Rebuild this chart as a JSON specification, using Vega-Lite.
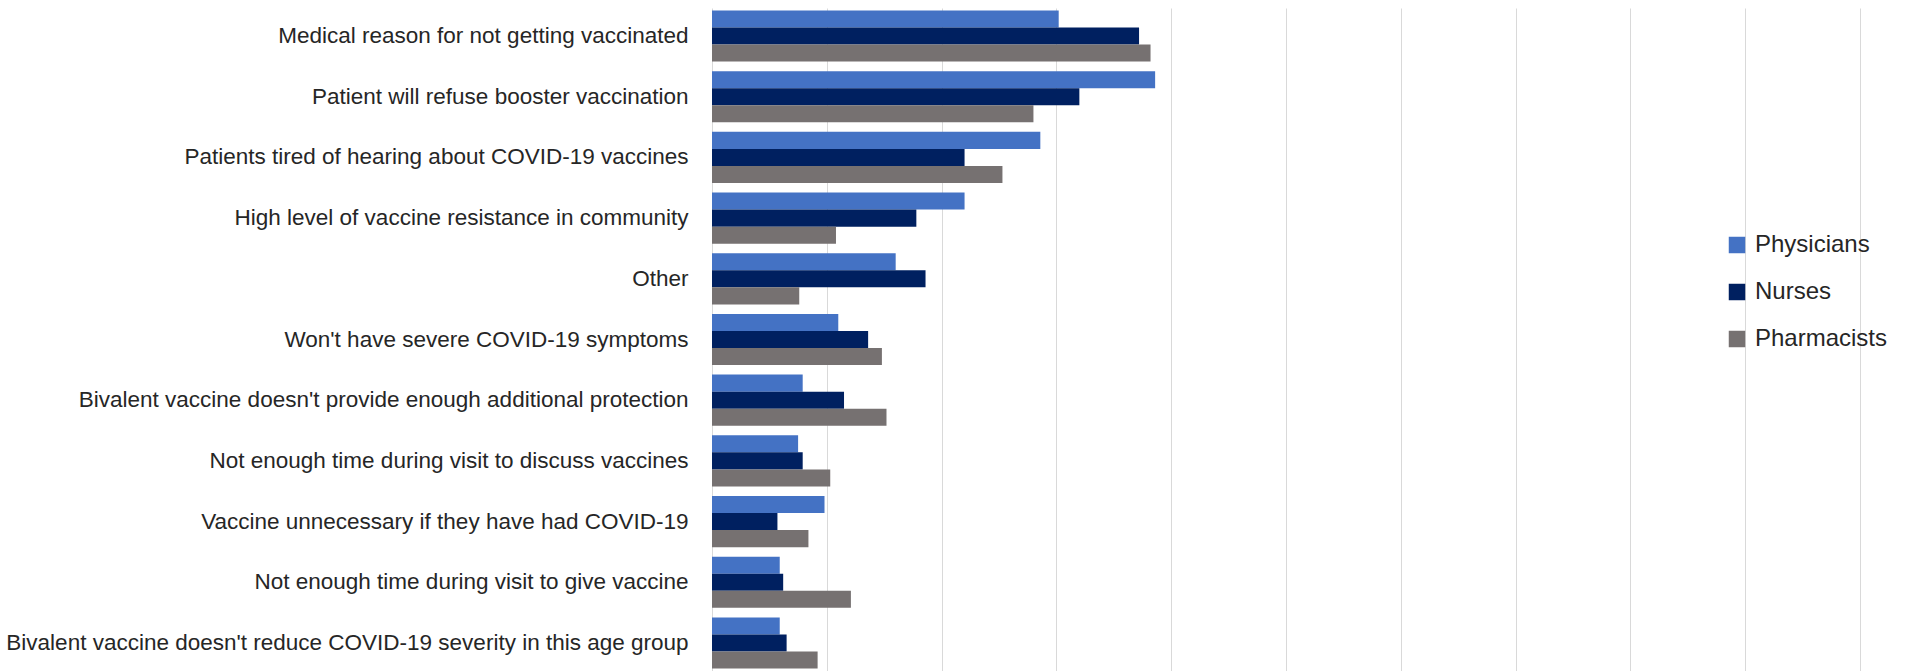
{
  "$schema": "https://vega.github.io/schema/vega-lite/v6.json",
  "autosize": {"type": "none"},
  "padding": {"left": 712, "top": 8, "right": 54, "bottom": 0},
  "width": 1148,
  "height": 663,
  "background": "white",
  "config": {"view": {"stroke": null}, "font": "Liberation Sans"},
  "data": {"values": [
    {"reason": "Medical reason for not getting vaccinated", "group": "Physicians", "value": 15.1},
    {"reason": "Medical reason for not getting vaccinated", "group": "Nurses", "value": 18.6},
    {"reason": "Medical reason for not getting vaccinated", "group": "Pharmacists", "value": 19.1},
    {"reason": "Patient will refuse booster vaccination", "group": "Physicians", "value": 19.3},
    {"reason": "Patient will refuse booster vaccination", "group": "Nurses", "value": 16.0},
    {"reason": "Patient will refuse booster vaccination", "group": "Pharmacists", "value": 14.0},
    {"reason": "Patients tired of hearing about COVID-19 vaccines", "group": "Physicians", "value": 14.3},
    {"reason": "Patients tired of hearing about COVID-19 vaccines", "group": "Nurses", "value": 11.0},
    {"reason": "Patients tired of hearing about COVID-19 vaccines", "group": "Pharmacists", "value": 12.65},
    {"reason": "High level of vaccine resistance in community", "group": "Physicians", "value": 11.0},
    {"reason": "High level of vaccine resistance in community", "group": "Nurses", "value": 8.9},
    {"reason": "High level of vaccine resistance in community", "group": "Pharmacists", "value": 5.4},
    {"reason": "Other", "group": "Physicians", "value": 8.0},
    {"reason": "Other", "group": "Nurses", "value": 9.3},
    {"reason": "Other", "group": "Pharmacists", "value": 3.8},
    {"reason": "Won't have severe COVID-19 symptoms", "group": "Physicians", "value": 5.5},
    {"reason": "Won't have severe COVID-19 symptoms", "group": "Nurses", "value": 6.8},
    {"reason": "Won't have severe COVID-19 symptoms", "group": "Pharmacists", "value": 7.4},
    {"reason": "Bivalent vaccine doesn't provide enough additional protection", "group": "Physicians", "value": 3.95},
    {"reason": "Bivalent vaccine doesn't provide enough additional protection", "group": "Nurses", "value": 5.75},
    {"reason": "Bivalent vaccine doesn't provide enough additional protection", "group": "Pharmacists", "value": 7.6},
    {"reason": "Not enough time during visit to discuss vaccines", "group": "Physicians", "value": 3.75},
    {"reason": "Not enough time during visit to discuss vaccines", "group": "Nurses", "value": 3.95},
    {"reason": "Not enough time during visit to discuss vaccines", "group": "Pharmacists", "value": 5.15},
    {"reason": "Vaccine unnecessary if they have had COVID-19", "group": "Physicians", "value": 4.9},
    {"reason": "Vaccine unnecessary if they have had COVID-19", "group": "Nurses", "value": 2.85},
    {"reason": "Vaccine unnecessary if they have had COVID-19", "group": "Pharmacists", "value": 4.2},
    {"reason": "Not enough time during visit to give vaccine", "group": "Physicians", "value": 2.95},
    {"reason": "Not enough time during visit to give vaccine", "group": "Nurses", "value": 3.1},
    {"reason": "Not enough time during visit to give vaccine", "group": "Pharmacists", "value": 6.05},
    {"reason": "Bivalent vaccine doesn't reduce COVID-19 severity in this age group", "group": "Physicians", "value": 2.95},
    {"reason": "Bivalent vaccine doesn't reduce COVID-19 severity in this age group", "group": "Nurses", "value": 3.25},
    {"reason": "Bivalent vaccine doesn't reduce COVID-19 severity in this age group", "group": "Pharmacists", "value": 4.6}
  ]},
  "mark": {"type": "bar"},
  "encoding": {
    "y": {
      "field": "reason", "type": "nominal", "sort": null, "title": null,
      "scale": {"paddingInner": 0.157, "paddingOuter": 0.04},
      "axis": {"ticks": false, "domain": false, "labelPadding": 24, "labelLimit": 0, "labelFontSize": 22.5, "labelColor": "#262626", "labelFont": "Liberation Sans"}
    },
    "yOffset": {"field": "group", "type": "nominal", "sort": ["Physicians", "Nurses", "Pharmacists"]},
    "x": {
      "field": "value", "type": "quantitative", "title": null,
      "scale": {"domain": [0, 50], "nice": false},
      "axis": {"values": [0, 5, 10, 15, 20, 25, 30, 35, 40, 45, 50], "labels": false, "ticks": false, "domain": false, "grid": true, "gridColor": "#d9d9d9", "gridWidth": 1}
    },
    "color": {
      "field": "group", "type": "nominal",
      "sort": ["Physicians", "Nurses", "Pharmacists"],
      "scale": {"domain": ["Physicians", "Nurses", "Pharmacists"], "range": ["#4472C4", "#002060", "#767171"]},
      "legend": {"title": null, "orient": "none", "legendX": 1013, "legendY": 225, "symbolType": "square", "symbolSize": 272, "symbolStrokeWidth": 0, "labelFontSize": 24, "labelColor": "#262626", "labelFont": "Liberation Sans", "rowPadding": 23, "labelOffset": 6}
    }
  }
}
